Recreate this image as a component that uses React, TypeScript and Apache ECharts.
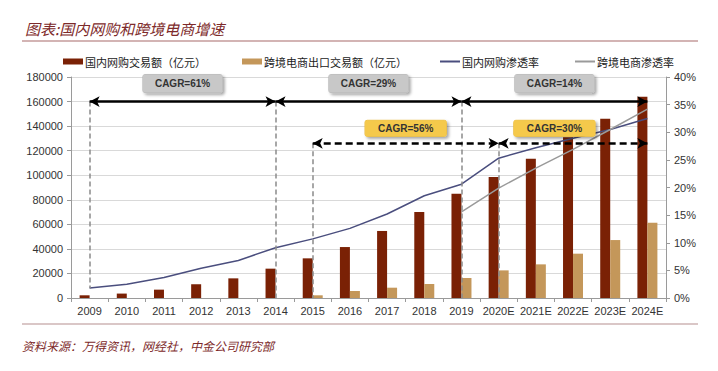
import React, { useEffect, useRef } from "react";
import * as echarts from "echarts";

const years = ["2009", "2010", "2011", "2012", "2013", "2014", "2015", "2016", "2017", "2018", "2019", "2020E", "2021E", "2022E", "2023E", "2024E"];
// 国内网购交易额（亿元）
const domesticGmv = [2200, 3600, 6800, 11200, 16000, 23900, 32300, 41500, 54600, 70000, 85000, 98500, 113500, 131000, 146000, 164000];
// 跨境电商出口交易额（亿元）
const crossBorderExport = [null, null, null, null, null, null, 2200, 5700, 8400, 11400, 16300, 22500, 27400, 36100, 47200, 61300];
// 国内网购渗透率 (%)
const domesticRate = [1.8, 2.5, 3.7, 5.4, 6.8, 9.1, 10.7, 12.6, 15.2, 18.5, 20.6, 25.3, 27.2, 28.9, 30.5, 32.5];
// 跨境电商渗透率 (%)
const crossBorderRate = [null, null, null, null, null, null, null, null, null, null, 15.6, 19.9, 23.5, 26.9, 30.5, 34.2];

const leftTicks = { min: 0, max: 180000, interval: 20000 };
const rightTicks = { min: 0, max: 40, interval: 5 };

// CAGR spans: [from, to, level, label]
const solidSpans: [string, string, number, string][] = [
  ["2009", "2014", 160000, "CAGR=61%"],
  ["2014", "2019", 160000, "CAGR=29%"],
  ["2019", "2024E", 160000, "CAGR=14%"],
];
const dashedSpans: [string, string, number, string][] = [
  ["2015", "2020E", 126000, "CAGR=56%"],
  ["2020E", "2024E", 126000, "CAGR=30%"],
];
// guide lines: [category, top, bottom]
const guides: [string, number, number][] = [
  ["2009", 160000, 8000],
  ["2014", 160000, 0],
  ["2019", 160000, 0],
  ["2015", 126000, 0],
  ["2020E", 126000, 0],
];

const names = ["国内网购交易额（亿元）", "跨境电商出口交易额（亿元）", "国内网购渗透率", "跨境电商渗透率"];

export default function App() {
  const ref = useRef<HTMLDivElement>(null);
  useEffect(() => {
    if (!ref.current) return;
    const chart = echarts.init(ref.current, null, { renderer: "svg" });
    const axisFont = { fontFamily: "Liberation Sans", fontSize: 11, color: "#333" };
    const grayBox = {
      show: true,
      position: "middle",
      distance: 9,
      backgroundColor: "#c8c8c8",
      borderColor: "#b5b5b5",
      borderWidth: 0.5,
      borderRadius: 2,
      padding: [4, 12, 4, 12],
      fontFamily: "Liberation Sans",
      fontWeight: "bold",
      fontSize: 10,
      color: "#333",
      shadowColor: "rgba(0,0,0,0.35)",
      shadowBlur: 3,
      shadowOffsetX: 2,
      shadowOffsetY: 2,
    };
    const yellowBox = { ...grayBox, backgroundColor: "#f5c94c", borderColor: "#e8b93a", distance: 7, padding: [3, 13, 3, 13] };

    const markData: any[] = [];
    guides.forEach(([c, t, b]) => {
      markData.push([
        { coord: [c, t], symbol: "none", lineStyle: { color: "#8a8a8a", width: 1.5, type: [5, 3] }, label: { show: false } },
        { coord: [c, b], symbol: "none" },
      ]);
    });
    solidSpans.forEach(([a, b, v, txt]) => {
      markData.push([
        { coord: [a, v], symbol: "arrow", symbolSize: [8, 10], lineStyle: { color: "#000", width: 2.5, type: "solid" }, label: { ...grayBox, formatter: txt } },
        { coord: [b, v], symbol: "arrow", symbolSize: [8, 10] },
      ]);
    });
    dashedSpans.forEach(([a, b, v, txt], i) => {
      const shifted = i === 1;
      markData.push([
        { coord: [a, v], symbol: "arrow", symbolSize: [8, 10], lineStyle: { color: "#000", width: 2.5, type: [7, 4] }, label: shifted ? { show: false } : { ...yellowBox, formatter: txt } },
        { coord: [b, v], symbol: "arrow", symbolSize: [8, 10] },
      ]);
      if (shifted) {
        const ia = years.indexOf(a);
        const ib = years.indexOf(b) - 1;
        markData.push([
          { coord: [ia, v], symbol: "none", lineStyle: { color: "rgba(0,0,0,0)", width: 0 }, label: { ...yellowBox, formatter: txt } },
          { coord: [ib, v], symbol: "none" },
        ]);
      }
    });

    const legendBase = {
      top: 51,
      itemGap: 0,
      itemWidth: 20,
      textStyle: { fontFamily: "Noto Sans CJK SC", fontSize: 11, color: "#222", padding: [0, 0, 0, -3] },
    };

    chart.setOption({
      animation: false,
      title: {
        text: "图表:国内网购和跨境电商增速",
        left: 20,
        top: 16,
        textStyle: { fontFamily: "Noto Sans CJK SC", fontStyle: "italic", fontWeight: "normal", fontSize: 15, color: "#7d2a2a" },
      },
      graphic: [
        { type: "line", shape: { x1: 22, y1: 41, x2: 698, y2: 41 }, style: { stroke: "#a86a6a", lineWidth: 1.2 } },
        { type: "line", shape: { x1: 22, y1: 324, x2: 698, y2: 324 }, style: { stroke: "#b59090", lineWidth: 1.2 } },
        {
          type: "text",
          left: 22,
          top: 339,
          style: { text: "资料来源：万得资讯，网经社，中金公司研究部", fontFamily: "Noto Sans CJK SC", fontStyle: "italic", fontSize: 12, fill: "#7d2a2a" },
        },
      ],
      legend: [
        { ...legendBase, left: 58, itemHeight: 6, data: [{ name: names[0], icon: "rect" }] },
        { ...legendBase, left: 237, itemHeight: 6, data: [{ name: names[1], icon: "rect" }] },
        { ...legendBase, left: 435, itemHeight: 2, data: [{ name: names[2], icon: "rect" }] },
        { ...legendBase, left: 570, itemHeight: 2, data: [{ name: names[3], icon: "rect" }] },
      ],
      grid: { left: 71, right: 52, top: 77, bottom: 73 },
      xAxis: {
        type: "category",
        data: years,
        axisLine: { lineStyle: { color: "#9a9a9a" } },
        axisTick: { show: true, length: 4, lineStyle: { color: "#9a9a9a" } },
        axisLabel: { ...axisFont, margin: 7, interval: 0 },
      },
      yAxis: [
        {
          type: "value",
          ...leftTicks,
          axisLine: { show: true, lineStyle: { color: "#9a9a9a" } },
          axisTick: { show: true, length: 4, lineStyle: { color: "#9a9a9a" } },
          axisLabel: { ...axisFont, margin: 8, formatter: (v: number) => String(v) },
          splitLine: { lineStyle: { color: "#d9d9d9" } },
        },
        {
          type: "value",
          ...rightTicks,
          position: "right",
          axisLine: { show: true, lineStyle: { color: "#9a9a9a" } },
          axisTick: { show: true, length: 4, lineStyle: { color: "#9a9a9a" } },
          axisLabel: { ...axisFont, margin: 8, formatter: "{value}%" },
          splitLine: { show: false },
        },
      ],
      series: [
        { name: names[0], type: "bar", data: domesticGmv, barWidth: 10, barGap: "0%", itemStyle: { color: "#7a2105" } },
        { name: names[1], type: "bar", data: crossBorderExport, barWidth: 10, barGap: "0%", itemStyle: { color: "#c4975a" } },
        { name: names[2], type: "line", yAxisIndex: 1, data: domesticRate, symbol: "none", lineStyle: { color: "#4a4e7e", width: 1.5 }, itemStyle: { color: "#4a4e7e" } },
        { name: names[3], type: "line", yAxisIndex: 1, data: crossBorderRate, symbol: "none", lineStyle: { color: "#9a9a9a", width: 1.5 }, itemStyle: { color: "#9a9a9a" } },
        {
          name: "annotations",
          type: "line",
          data: [],
          z: 5,
          markLine: { silent: true, animation: false, symbol: ["none", "none"], label: { show: false }, data: markData },
        },
      ],
    });
    return () => chart.dispose();
  }, []);
  return <div ref={ref} style={{ position: "absolute", left: 0, top: 0, width: 718, height: 371 }} />;
}
